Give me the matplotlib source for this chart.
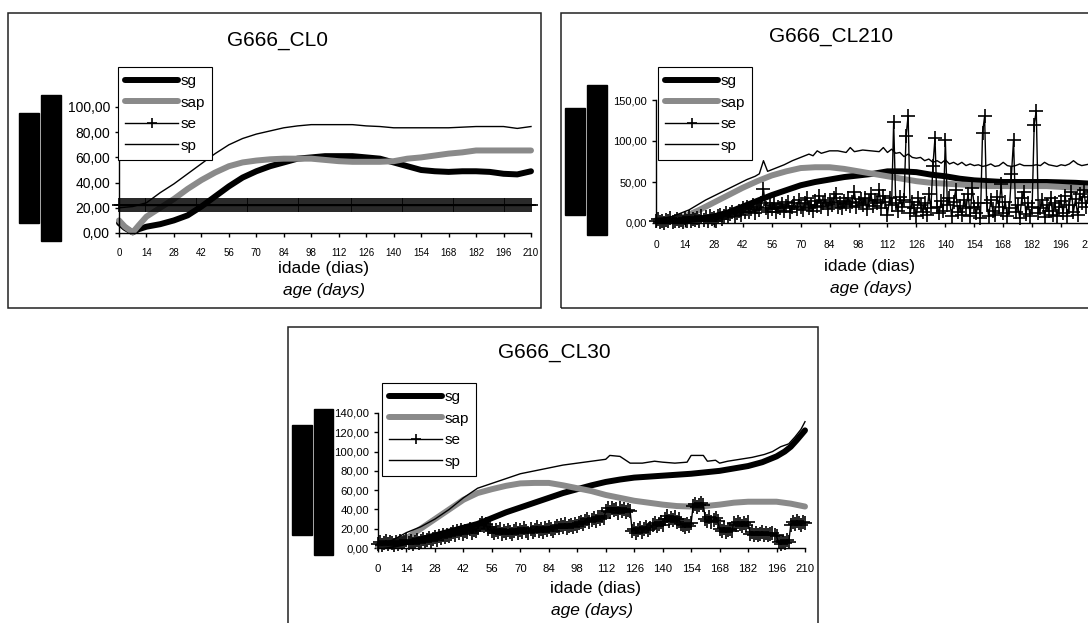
import matplotlib
matplotlib.use('Agg')
import matplotlib.pyplot as plt
from matplotlib.patches import Rectangle
from matplotlib.ticker import FuncFormatter

plt.rcParams['font.family'] = ['Liberation Sans', 'DejaVu Sans']

W, H = 1088, 623
day_ticks = list(range(0, 211, 14))

# ---------------- G666_CL0 ----------------
cl0_sg_days = [0, 3, 7, 10, 14, 21, 28, 35, 42, 49, 56, 63, 70, 77, 84, 91, 98, 105,
               112, 119, 126, 133, 140, 147, 154, 161, 168, 175, 182, 189, 196, 203, 210]
cl0_sg = [8, 4, 0.5, 3, 5, 7, 10, 14, 21, 29, 37, 44, 49, 53, 56, 59, 60, 61,
          61, 61, 60, 59, 56, 53, 50, 49, 48.5, 49, 49, 48.5, 47, 46.5, 49]
cl0_sap_days = cl0_sg_days
cl0_sap = [10, 5, 0.5, 6, 13, 20, 27, 35, 42, 48, 53, 56, 57.5, 58.5, 59, 59, 59, 58,
           57, 56.5, 56.5, 56.5, 57, 59, 60, 61.5, 63, 64, 65.5, 65.5, 65.5, 65.5, 65.5]
cl0_sp_days = [0, 7, 14, 21, 28, 35, 42, 49, 56, 63, 70, 77, 84, 91, 98, 105, 112, 119,
               126, 133, 140, 147, 154, 161, 168, 175, 182, 189, 196, 203, 210]
cl0_sp = [20, 21, 24, 32, 39, 47, 55, 63, 70, 75, 78.5, 81, 83.5, 85, 86, 86, 86, 86,
          85, 84.5, 83.5, 83.5, 83.5, 83.5, 83.5, 84, 84.5, 84.5, 84.5, 83, 84.5]
cl0_se_days = list(range(0, 211))
cl0_se = [22.0] * len(cl0_se_days)   # flat over the whole period

# ---------------- G666_CL210 ----------------
cl210_sg_days = [0, 7, 14, 21, 28, 35, 42, 49, 56, 63, 70, 77, 84, 91, 98, 105, 112, 119,
                 126, 133, 140, 147, 154, 161, 168, 175, 182, 189, 196, 203, 210]
cl210_sg = [3, 3, 3, 5, 8, 13, 20, 27, 34, 40, 46, 50, 53, 56, 58, 60, 63, 63,
            62, 59, 57, 54, 52, 51, 50, 50, 50, 50, 49.5, 49, 48]
cl210_sap_days = cl210_sg_days
cl210_sap = [3, 4, 8, 16, 25, 34, 43, 51, 58, 63, 67, 68, 68, 66, 63, 60, 57, 54,
             51, 49, 48, 47, 46, 45, 45, 45, 45, 45, 44, 43, 42]
cl210_sp_days = [0, 4, 8, 12, 16, 20, 24, 28, 32, 36, 40, 44, 48, 50, 52, 54, 58, 62, 66, 70,
                 74, 76, 78, 80, 84, 88, 92, 94, 96, 100, 104, 108, 110, 112, 114, 116, 118, 120,
                 122, 124, 126, 128, 130, 132, 134, 136, 138, 140, 142, 144, 146, 148, 150, 152,
                 154, 156, 158, 160, 162, 164, 166, 168, 170, 172, 174, 176, 178, 180, 182, 184,
                 186, 188, 190, 192, 194, 196, 198, 200, 202, 204, 206, 208, 210]
cl210_sp = [5, 6, 8, 12, 16, 22, 28, 33, 38, 43, 48, 53, 57, 60, 76, 63, 67, 71, 76, 80,
            84, 82, 88, 85, 88, 88, 86, 92, 87, 89, 88, 87, 92, 86, 90, 85, 86, 81,
            84, 80, 79, 80, 76, 78, 74, 76, 73, 77, 72, 74, 71, 74, 70, 72,
            70, 71, 69, 70, 72, 69, 70, 74, 70, 69, 70, 72, 70, 70, 70, 71,
            70, 74, 71, 70, 69, 71, 70, 72, 76, 72, 70, 71, 72]
cl210_se_days = list(range(0, 211))
cl210_se = [2, 5, 1, 3, 0, 4, 2, 6, 1, 3,            # 0-9
            5, 2, 4, 1, 6, 3, 7, 2, 5, 4,            # 10-19
            6, 3, 8, 4, 7, 2, 9, 5, 6, 3,            # 20-29
            8, 10, 5, 9, 12, 7, 11, 14, 8, 12,       # 30-39
            15, 10, 18, 13, 20, 14, 17, 22, 12, 19,  # 40-49
            16, 24, 42, 18, 14, 22, 17, 25, 13, 20,  # 50-59
            18, 23, 15, 21, 26, 14, 19, 24, 17, 28,  # 60-69
            20, 16, 25, 30, 18, 22, 15, 27, 21, 33,  # 70-79
            19, 24, 28, 17, 26, 22, 30, 35, 20, 25,  # 80-89
            18, 27, 23, 31, 21, 26, 38, 19, 24, 29,  # 90-99
            22, 30, 17, 27, 35, 21, 28, 24, 40, 18,  # 100-109
            33, 26, 10, 30, 22, 123, 25, 15, 32, 20,  # 110-119
            28, 106, 131, 12, 26, 18, 8, 30, 22, 14,  # 120-129
            25, 10, 35, 18, 70, 104, 20, 12, 27, 15,  # 130-139
            101, 22, 30, 8, 26, 40, 14, 21, 10, 28,   # 140-149
            18, 35, 9, 43, 20, 12, 25, 6, 110, 130,   # 150-159
            24, 8, 28, 15, 10, 32, 20, 47, 12, 26,    # 160-169
            8, 18, 60, 101, 14, 22, 6, 30, 38, 11,    # 170-179
            25, 9, 20, 120, 137, 12, 18, 28, 7, 22,   # 180-189
            15, 30, 10, 24, 8, 19, 27, 12, 33, 9,     # 190-199
            22, 38, 14, 29, 10, 35, 25, 40, 20, 32,   # 200-209
            38]                                       # 210

# ---------------- G666_CL30 ----------------
cl30_sg_days = [0, 7, 14, 21, 28, 35, 42, 49, 56, 63, 70, 77, 84, 91, 98, 105, 112, 119,
                126, 133, 140, 147, 154, 161, 168, 175, 182, 189, 196, 200, 203, 206, 208, 210]
cl30_sg = [2, 3, 6, 9, 13, 17, 21, 25, 31, 37, 42, 47, 52, 57, 61, 65, 68.5, 71,
           73, 74, 75, 76, 77, 78.5, 80, 82.5, 85, 89, 95, 100, 105, 112, 117, 122]
cl30_sap_days = [0, 7, 14, 21, 28, 35, 42, 49, 56, 63, 70, 77, 84, 91, 98, 105, 112, 119,
                 126, 133, 140, 147, 154, 161, 168, 175, 182, 189, 196, 203, 210]
cl30_sap = [2, 5, 10, 20, 30, 40, 50, 57, 61, 64.5, 67, 67.5, 67.5, 65, 62, 59, 55, 52,
            49, 47, 45, 43.5, 43, 43.5, 45, 47, 48, 48, 48, 46, 43]
cl30_sp_days = [0, 7, 14, 21, 28, 35, 42, 49, 56, 63, 70, 77, 84, 91, 98, 105, 112, 114,
                119, 124, 130, 136, 140, 146, 152, 154, 160, 162, 166, 168, 172, 178, 184,
                190, 194, 198, 202, 205, 208, 210]
cl30_sp = [3, 8, 16, 22, 30, 40, 52, 62, 67, 72, 77, 80, 83, 86, 88, 90, 92, 96,
           95, 88, 88, 90, 89, 88, 89, 96, 96, 90, 91, 88, 90, 92, 94,
           97, 100, 105, 108, 115, 123, 131]
cl30_se_days = list(range(0, 211))
cl30_se = [4, 6, 3, 5, 7, 4, 6, 5, 3, 6,            # 0-9
           4, 7, 5, 6, 8, 5, 7, 4, 6, 8,            # 10-19
           5, 7, 9, 6, 8, 10, 7, 9, 11, 8,          # 20-29
           12, 10, 13, 11, 14, 12, 15, 17, 14, 18,  # 30-39
           16, 19, 15, 18, 17, 20, 16, 19, 18, 21,  # 40-49
           24, 26, 23, 25, 20, 22, 18, 16, 19, 17,  # 50-59
           20, 15, 18, 16, 19, 17, 15, 18, 20, 16,  # 60-69
           19, 17, 21, 18, 16, 20, 17, 19, 22, 18,  # 70-79
           20, 17, 21, 19, 22, 20, 18, 21, 23, 21,  # 80-89
           24, 22, 25, 21, 23, 24, 22, 25, 23, 26,  # 90-99
           27, 25, 28, 30, 27, 29, 31, 28, 32, 30,  # 100-109
           33, 31, 38, 41, 37, 42, 39, 40, 36, 41,  # 110-119
           38, 40, 37, 39, 38, 18, 20, 16, 19, 21,  # 120-129
           17, 20, 22, 19, 21, 24, 26, 23, 25, 27,  # 130-139
           24, 30, 33, 28, 31, 29, 32, 27, 30, 25,  # 140-149
           24, 22, 25, 23, 26, 44, 46, 43, 45, 47,  # 150-159
           45, 30, 28, 32, 27, 29, 31, 28, 20, 18,  # 160-169
           21, 17, 19, 20, 18, 26, 24, 27, 25, 23,  # 170-179
           26, 24, 27, 15, 17, 14, 16, 13, 15, 17,  # 180-189
           14, 16, 13, 15, 16, 14, 12, 6, 4, 7,     # 190-199
           5, 8, 6, 24, 27, 25, 28, 26, 24, 27,     # 200-209
           26]                                      # 210

comma = FuncFormatter(lambda v, p: ('%.2f' % v).replace('.', ','))

fig = plt.figure(figsize=(W / 100, H / 100), dpi=100)


def px_rect(l, t, r, b, **kw):
    fig.add_artist(Rectangle((l / W, 1 - b / H), (r - l) / W, (b - t) / H,
                             transform=fig.transFigure, **kw))


def px_text(x, y, s, **kw):
    fig.text(x / W, 1 - y / H, s, ha='center', va='center', **kw)


def panel(box, ax_px, ylim, yticks, yfs, xfs, xpad, data, leg_xy, title, title_xy, lab_xy, age_xy, bars):
    px_rect(*box, fill=False, edgecolor='#222222', linewidth=1.1)
    for b in bars:
        px_rect(*b, color='black')
    l, t, r, b = ax_px
    ax = fig.add_axes([l / W, 1 - b / H, (r - l) / W, (b - t) / H])
    sg_d, sg, sap_d, sap, se_d, se, sp_d, sp = data
    ax.plot(sg_d, sg, color='black', lw=4.3, solid_capstyle='round',
            solid_joinstyle='round', clip_on=False, label='sg')
    ax.plot(sap_d, sap, color='#8a8a8a', lw=4.3, solid_capstyle='round',
            solid_joinstyle='round', clip_on=False, label='sap')
    ax.plot(se_d, se, color='black', lw=1.0, marker='+', ms=9.5, mew=1.2,
            clip_on=False, label='se')
    ax.plot(sp_d, sp, color='black', lw=1.0, clip_on=False, label='sp')
    ax.set_xlim(0, 210)
    ax.set_ylim(*ylim)
    ax.set_xticks(day_ticks)
    ax.set_yticks(yticks)
    ax.yaxis.set_major_formatter(comma)
    for s in ['top', 'right']:
        ax.spines[s].set_visible(False)
    for s in ['left', 'bottom']:
        ax.spines[s].set_linewidth(1.0)
    ax.tick_params(axis='y', length=3, width=1, pad=3.5, labelsize=yfs)
    ax.tick_params(axis='x', length=3, width=1, pad=xpad, labelsize=xfs)
    leg = ax.legend(loc='upper left', bbox_to_anchor=(leg_xy[0] / W, 1 - leg_xy[1] / H),
                    bbox_transform=fig.transFigure, frameon=True, fancybox=False,
                    edgecolor='black', framealpha=1, fontsize=11, handlelength=3.5,
                    handletextpad=0.15, labelspacing=0.5, borderpad=0.45,
                    borderaxespad=0, numpoints=1, markerscale=0.8)
    leg.get_frame().set_linewidth(0.8)
    px_text(*title_xy, title, fontsize=15)
    px_text(*lab_xy, 'idade (dias)', fontsize=12.5)
    px_text(*age_xy, 'age (days)', fontsize=12.5, style='italic')
    return ax


panel((8, 13, 541, 308), (119, 107, 531, 233), (0, 100), [0, 20, 40, 60, 80, 100], 10, 7, 7.5,
      (cl0_sg_days, cl0_sg, cl0_sap_days, cl0_sap, cl0_se_days, cl0_se, cl0_sp_days, cl0_sp),
      (118, 67), 'G666_CL0', (277, 40), (323, 269), (324, 290),
      [(19, 113, 39, 223), (41, 95, 61, 241)])

panel((561, 13, 1100, 308), (656, 100, 1090, 223), (0, 150), [0, 50, 100, 150], 8, 7.3, 9,
      (cl210_sg_days, cl210_sg, cl210_sap_days, cl210_sap, cl210_se_days, cl210_se,
       cl210_sp_days, cl210_sp),
      (658, 67), 'G666_CL210', (831, 37), (869, 267), (871, 288),
      [(565, 108, 585, 215), (587, 85, 607, 235)])

panel((288, 327, 818, 640), (378, 413, 805, 548), (0, 140), list(range(0, 141, 20)), 8.2, 8.2, 8.5,
      (cl30_sg_days, cl30_sg, cl30_sap_days, cl30_sap, cl30_se_days, cl30_se,
       cl30_sp_days, cl30_sp),
      (382, 383), 'G666_CL30', (554, 353), (595, 588), (592, 610),
      [(292, 425, 312, 535), (314, 409, 333, 555)])

fig.savefig('out.png', dpi=100)
